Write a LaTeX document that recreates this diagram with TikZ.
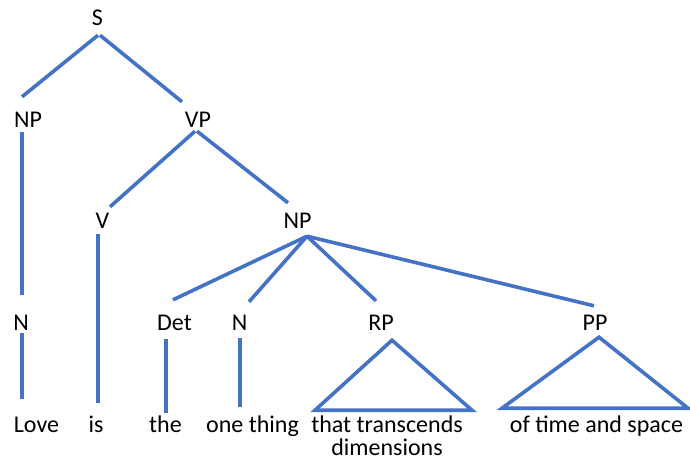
\documentclass[tikz,border=0pt]{standalone}
\usepackage{fontspec}
\setmainfont{Carlito}
\definecolor{treeblue}{HTML}{4472C4}
\tikzset{
    cat/.style = {inner sep = 0pt, anchor = base, text height = 15pt, text depth = 0pt,
                  font = \fontsize{24}{23}\selectfont},
    word/.style = {cat, align = center},
    branch/.style = {draw = treeblue, line width = 3.6pt},
}
\begin{document}
\begin{tikzpicture}[x = 1pt, y = -1pt]
    \useasboundingbox (0, 0) rectangle (690, 467);
    \node[cat] (S)   at ( 97.5,  25) {S};
    \node[cat] (NP1) at ( 28,   127) {NP};
    \node[cat] (VP)  at (198,   127) {VP};
    \node[cat] (V)   at (102.5, 228) {V};
    \node[cat] (NP2) at (297.5, 228) {NP};
    \node[cat] (N1)  at ( 21,   330) {N};
    \node[cat] (Det) at (174.5, 330) {Det};
    \node[cat] (N2)  at (239.5, 330) {N};
    \node[cat] (RP)  at (381,   330) {RP};
    \node[cat] (PP)  at (595,   330) {PP};

    \node[word] (Love)  at ( 36.5, 432) {Love};
    \node[word] (is)    at ( 96,   432) {is};
    \node[word] (the)   at (165.5, 432) {the};
    \node[word] (thing) at (252.5, 432) {one thing};
    \node[word] (that)  at (387,   455) {that transcends\\dimensions};
    \node[word] (space) at (596.5, 432) {of time and space};

    \draw[branch] ([xshift = 0.5pt, yshift = -10pt]S.south) -- ([xshift = -6pt, yshift = 15pt]NP1.north);
    \draw[branch] ([xshift = 2.5pt, yshift = -10pt]S.south) -- ([xshift = -16pt, yshift = 10pt]VP.north);
    \draw[branch] ([xshift = -6pt, yshift = -5pt]NP1.south) -- ([xshift = 1pt, yshift = 20pt]N1.north);
    \draw[branch] ([xshift = -3pt, yshift = -4pt]VP.south) -- ([xshift = 7.5pt, yshift = 6pt]V.north);
    \draw[branch] ([xshift = -1pt, yshift = -4pt]VP.south) -- ([xshift = -9.5pt, yshift = 10pt]NP2.north);
    \draw[branch] ([xshift = -4.5pt, yshift = -6pt]V.south) -- ([xshift = 2pt, yshift = 14pt]is.north);
    \draw[branch] ([xshift = 1pt, yshift = -3pt]N1.south) -- ([xshift = -14.5pt, yshift = 18pt]Love.north);
    \draw[branch] ([xshift = 9.5pt, yshift = -8pt]NP2.south) -- ([xshift = -1.5pt, yshift = 15pt]Det.north);
    \draw[branch] ([xshift = 9.5pt, yshift = -8pt]NP2.south) -- ([xshift = 9.5pt, yshift = 13pt]N2.north);
    \draw[branch] ([xshift = 9.5pt, yshift = -8pt]NP2.south) -- ([xshift = -5pt, yshift = 14pt]RP.north);
    \draw[branch] ([xshift = 9.5pt, yshift = -8pt]NP2.south) -- ([xshift = -1pt, yshift = 9pt]PP.north);
    \draw[branch] ([xshift = -8.5pt, yshift = -9pt]Det.south) -- ([xshift = 0.5pt, yshift = 4pt]the.north);
    \draw[branch] ([xshift = 0.5pt, yshift = -8pt]N2.south) -- ([xshift = -12.5pt, yshift = 10pt]thing.north);
    \draw[branch] ([xshift = 11pt, yshift = -10pt]RP.south) -- ([xshift = -66pt, yshift = -80pt]RP.south)
        -- ([xshift = 91pt, yshift = -80pt]RP.south) -- cycle;
    \draw[branch] ([xshift = 4pt, yshift = -7pt]PP.south) -- ([xshift = -93pt, yshift = -78pt]PP.south)
        -- ([xshift = 93pt, yshift = -78pt]PP.south) -- cycle;
\end{tikzpicture}
\end{document}
